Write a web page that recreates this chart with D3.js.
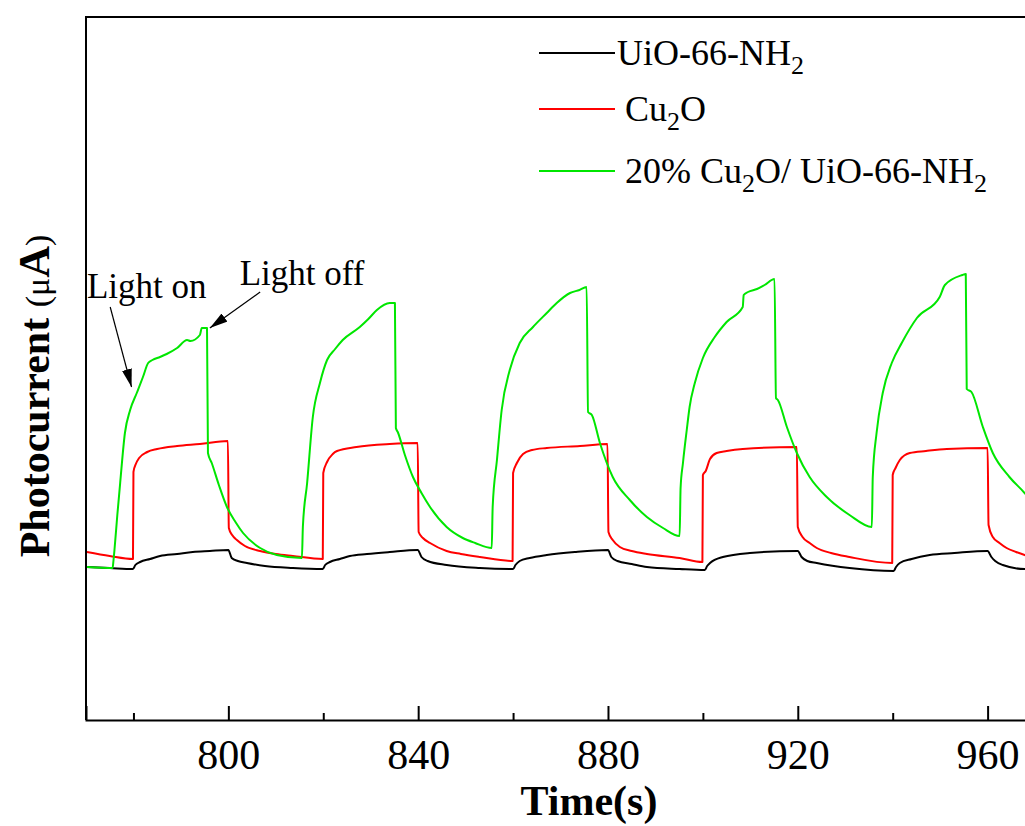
<!DOCTYPE html>
<html>
<head>
<meta charset="utf-8">
<script src="https://cdn.jsdelivr.net/npm/d3@7"></script>
<style>
  body { margin: 0; background: #fff; }
  svg { display: block; font-family: "Times New Roman", "Liberation Serif", serif; }
</style>
</head>
<body>
<svg id="chart"></svg>
<script>
// time (s), photocurrent (uA)
const uioData = [
  [770.2,1.53],[775,1.52],[779.9,1.51],[780.4,1.55],[781.4,1.58],[783.5,1.61],[785.6,1.64],[789.2,1.66],[792.5,1.68],[796.1,1.69],[800.0,1.70],
  [800.7,1.62],[802,1.59],[803.9,1.57],[807.7,1.54],[813.6,1.52],[819.9,1.51],
  [820.4,1.55],[821.4,1.58],[823.5,1.61],[825.6,1.64],[829.2,1.66],[834,1.68],[839.9,1.70],
  [840.7,1.63],[842,1.59],[846,1.55],[853,1.52],[860,1.51],
  [860.5,1.55],[861.4,1.59],[863.5,1.62],[867.1,1.65],[873,1.68],[880,1.70],
  [880.7,1.63],[882,1.59],[885,1.56],[888.2,1.53],[895.1,1.51],[900.4,1.50],
  [900.9,1.54],[901.5,1.57],[904.2,1.63],[909.9,1.67],[920,1.69],
  [920.8,1.63],[922,1.59],[924,1.57],[930.9,1.52],[940.2,1.49],
  [940.7,1.53],[941.5,1.57],[944,1.61],[947.8,1.65],[953,1.67],[960,1.69],
  [960.8,1.63],[961.6,1.59],[963.2,1.55],[967.8,1.51],[968.5,1.51]
];
const cu2oData = [
  [770.2,1.68],[775,1.64],[779.9,1.61],[780.0,2.48],[780.5,2.56],[781.2,2.62],[782.9,2.68],[785,2.71],[789.2,2.74],[794,2.76],[799.9,2.79],
  [800.1,1.92],[800.8,1.85],[801.8,1.80],[803.5,1.74],[806.7,1.69],[810,1.66],[813.6,1.64],[819.9,1.61],
  [820.0,2.47],[820.8,2.58],[822,2.66],[822.9,2.69],[827,2.73],[834,2.76],[839.9,2.77],
  [840.1,1.88],[841,1.82],[842.5,1.77],[846,1.69],[849,1.66],[853,1.63],[859.9,1.59],
  [860.0,2.47],[860.8,2.57],[862.1,2.66],[864,2.70],[867.1,2.72],[874.1,2.74],[879.9,2.76],
  [880.1,1.88],[881,1.80],[882.5,1.73],[885,1.69],[888.2,1.66],[895.1,1.62],[899.9,1.58],
  [900.0,2.45],[900.6,2.49],[901.5,2.61],[902.9,2.67],[905,2.69],[908.4,2.71],[919.8,2.73],
  [920.0,1.93],[921,1.83],[922.5,1.77],[924,1.72],[927,1.67],[930.9,1.63],[939.9,1.57],
  [940.0,2.45],[940.6,2.52],[941.5,2.60],[943.6,2.67],[947,2.69],[951.4,2.71],[960.0,2.72],
  [960.2,1.95],[961.1,1.83],[962.5,1.77],[964,1.72],[966,1.68],[967.8,1.65],[968.5,1.64]
];
const compositeData = [
  [770.2,1.53],[775.6,1.52],[775.8,1.60],[776.0,1.70],[776.6,2.05],[777.2,2.37],[778.2,2.87],[779.3,3.10],[780.7,3.27],[782.0,3.43],
  [783.1,3.57],[784,3.60],[785.6,3.63],[787,3.66],[789.2,3.72],[791.3,3.80],[792,3.79],[794.0,3.85],[794.4,3.92],[795.5,3.92],
  [795.7,2.67],[796.5,2.57],[798,2.35],[799.7,2.13],[801.5,1.98],[803.1,1.87],[806.7,1.72],[810.2,1.65],[815.5,1.62],
  [815.7,1.93],[816.6,2.37],[817.8,3.03],[819.3,3.37],[820.8,3.60],[822.5,3.71],[824.1,3.80],[827.7,3.93],[829.5,4.01],[831.3,4.10],[834.0,4.17],[835.1,4.17],
  [835.3,2.92],[835.7,2.88],[837.2,2.65],[838.9,2.43],[840.7,2.27],[842.5,2.13],[846.0,1.93],[849.4,1.82],[852,1.77],[855.5,1.72],
  [855.7,2.13],[856.6,2.60],[857.6,3.10],[859.3,3.50],[861.4,3.77],[864.2,3.93],[867.1,4.07],[869.2,4.17],[872.0,4.27],[874,4.30],[875.5,4.33],
  [875.8,3.08],[876.6,3.05],[878.3,2.77],[881.0,2.43],[884.6,2.20],[888.2,2.03],[891.6,1.92],[895.1,1.84],
  [895.3,2.32],[895.8,2.57],[896.6,2.90],[897.2,3.13],[898.3,3.37],[900.0,3.62],[902.5,3.83],[905.0,3.98],[908.4,4.13],[908.6,4.25],
  [909.5,4.28],[911.4,4.31],[913.0,4.35],[915.1,4.41],
  [915.4,3.22],[915.8,3.20],[917.7,2.93],[919.8,2.67],[922.5,2.43],[926.1,2.23],[930.9,2.05],[935.6,1.93],
  [935.8,2.43],[936.6,2.87],[937.9,3.27],[939.8,3.57],[941.9,3.77],[945.1,4.02],[949.9,4.23],[951.0,4.35],[954.7,4.45],[955.4,4.46],
  [955.6,3.31],[956.6,3.28],[959.0,2.93],[961.1,2.67],[964.6,2.43],[967.8,2.27],[968.5,2.23]
];

const seriesData = [uioData, cu2oData, compositeData];
const seriesColors = ['#000000', '#ff0000', '#00e600'];
const majorTicks = [800, 840, 880, 920, 960];
const minorTicks = [780, 820, 860, 900, 940, 980];

// annotation arrows: [time, current] for tail and tip
const lightOnArrow = [[775.1, 4.13], [779.6, 3.33]];
const lightOffArrow = [[806.7, 4.28], [796.1, 3.92]];

const width = 1025, height = 826;
const margin = {top: 17, left: 86, bottom: 106};
const plotRight = 1092;

const svg = d3.select('#chart')
  .attr('width', width)
  .attr('height', height);

const x = d3.scaleLinear().domain([770, 982]).range([margin.left, plotRight]);
const y = d3.scaleLinear().domain([0, 7.03]).range([height - margin.bottom, margin.top]);

const line = d3.line()
  .curve(d3.curveMonotoneX)
  .x(d => x(d[0]))
  .y(d => y(d[1]));

// data lines
svg.append('g')
  .attr('fill', 'none')
  .attr('stroke-width', 2)
  .attr('stroke-linejoin', 'round')
  .selectAll('path')
  .data(seriesData)
  .join('path')
  .attr('stroke', (d, i) => seriesColors[i])
  .attr('d', line);

// frame
const y0 = y.range()[0], y1 = y.range()[1];
svg.append('path')
  .attr('d', `M${x.range()[0]},${y0}V${y1}H${plotRight}`)
  .attr('fill', 'none')
  .attr('stroke', '#000')
  .attr('stroke-width', 2);

// bottom axis, ticks pointing in
const xAxis = svg.append('g')
  .attr('transform', `translate(0,${y0})`)
  .call(d3.axisBottom(x).tickValues(majorTicks).tickSize(-14).tickPadding(19).tickFormat(d3.format('d')))
  .attr('font-family', null)
  .attr('font-size', 42);
xAxis.select('.domain').attr('stroke-width', 2);
xAxis.selectAll('.tick line').attr('stroke-width', 2);

svg.append('g')
  .attr('transform', `translate(0,${y0})`)
  .call(d3.axisBottom(x).tickValues(minorTicks).tickSize(-7).tickFormat(''))
  .call(g => g.select('.domain').remove())
  .selectAll('.tick line').attr('stroke-width', 2);

// axis titles
svg.append('text')
  .attr('x', (x.range()[0] + plotRight) / 2)
  .attr('y', 815)
  .attr('text-anchor', 'middle')
  .attr('font-size', 42)
  .attr('font-weight', 'bold')
  .text('Time(s)');

const yTitle = svg.append('text')
  .attr('transform', 'translate(49,396) rotate(-90)')
  .attr('text-anchor', 'middle');
yTitle.append('tspan').attr('font-size', 42).attr('font-weight', 'bold').text('Photocurrent ');
yTitle.append('tspan').attr('font-size', 34).text('(μ');
yTitle.append('tspan').attr('font-size', 44).attr('font-weight', 'bold').text('A');
yTitle.append('tspan').attr('font-size', 34).text(')');

// legend
const legendRows = [
  {y: 53, textX: 617, parts: [['UiO-66-NH', 0], ['2', 1]]},
  {y: 109, textX: 625, parts: [['Cu', 0], ['2', 1], ['O', 0]]},
  {y: 171, textX: 625, parts: [['20% Cu', 0], ['2', 1], ['O/ UiO-66-NH', 0], ['2', 1]]}
];
const legend = svg.append('g');
legendRows.forEach((row, i) => {
  legend.append('line')
    .attr('x1', 539).attr('x2', 615)
    .attr('y1', row.y).attr('y2', row.y)
    .attr('stroke', seriesColors[i])
    .attr('stroke-width', 2);
  const t = legend.append('text')
    .attr('x', row.textX)
    .attr('y', row.y + 12)
    .attr('font-size', 36);
  let shifted = false;
  row.parts.forEach(([s, sub]) => {
    const sp = t.append('tspan').text(s);
    if (sub && !shifted) { sp.attr('dy', 9).attr('font-size', 26); shifted = true; }
    else if (!sub && shifted) { sp.attr('dy', -9); shifted = false; }
  });
});

// arrows
svg.append('defs').append('marker')
  .attr('id', 'head')
  .attr('markerUnits', 'userSpaceOnUse')
  .attr('markerWidth', 18).attr('markerHeight', 10)
  .attr('refX', 18).attr('refY', 5)
  .attr('orient', 'auto')
  .append('path')
  .attr('d', 'M0,0L18,5L0,10Z')
  .attr('fill', '#000');

[lightOnArrow, lightOffArrow].forEach(a => {
  svg.append('line')
    .attr('x1', x(a[0][0])).attr('y1', y(a[0][1]))
    .attr('x2', x(a[1][0])).attr('y2', y(a[1][1]))
    .attr('stroke', '#000')
    .attr('stroke-width', 1.2)
    .attr('marker-end', 'url(#head)');
});

svg.append('text')
  .attr('x', x(770.2)).attr('y', y(4.22))
  .attr('font-size', 35)
  .text('Light on');
svg.append('text')
  .attr('x', x(802.4)).attr('y', y(4.35))
  .attr('font-size', 35)
  .text('Light off');
</script>
</body>
</html>
